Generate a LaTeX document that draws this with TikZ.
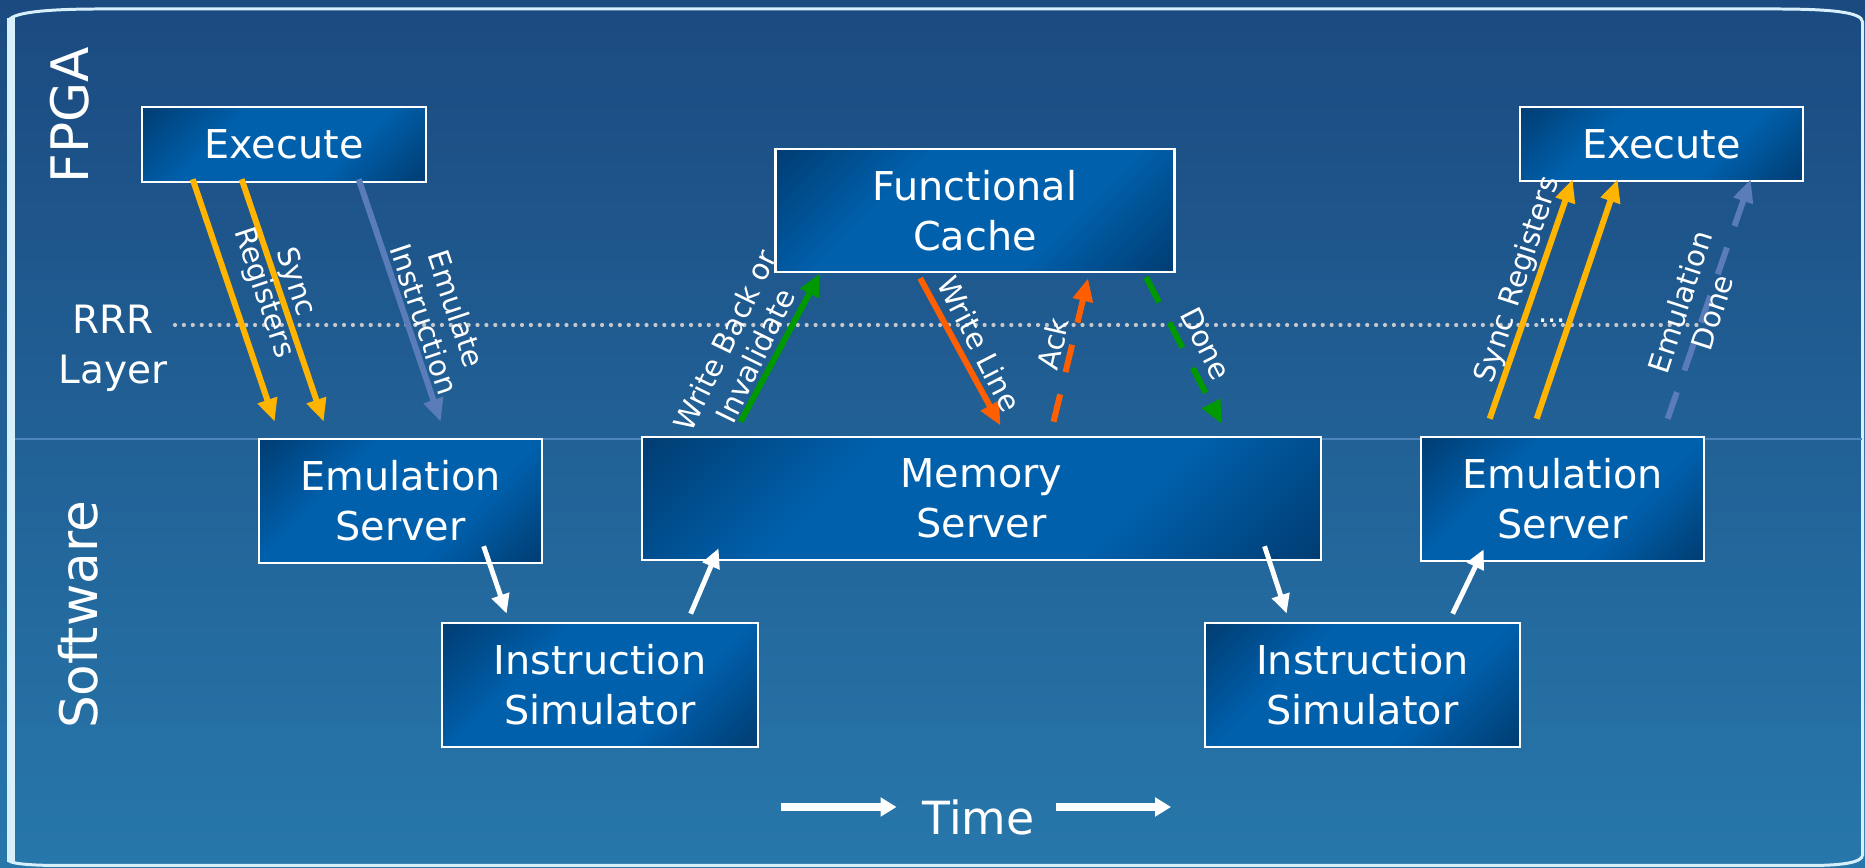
\documentclass[tikz,border=0pt]{standalone}
\usepackage{fontspec}
\setmainfont{DejaVu Sans}
\usepackage{xcolor}
\usepackage{tikz}
\usetikzlibrary{arrows.meta, calc}
\definecolor{bgtop}{HTML}{1B4A80}
\definecolor{bgbottom}{HTML}{2777AB}
\definecolor{boxdark}{HTML}{01244A}
\definecolor{boxlight}{HTML}{0060AC}
\definecolor{framecol}{HTML}{D8F0FC}
\definecolor{syncyellow}{HTML}{FFB400}
\definecolor{emulblue}{HTML}{5A7DB9}
\definecolor{cachegreen}{HTML}{009A00}
\definecolor{lineorange}{HTML}{FF5F00}
\definecolor{dotgray}{HTML}{C4C8CC}
\definecolor{splitblue}{HTML}{4C84BC}
\pgfdeclarehorizontalshading{boxshade}{100bp}{color(0bp)=(boxdark); color(36bp)=(boxlight); color(64bp)=(boxlight); color(100bp)=(boxdark)}
\tikzstyle{box} = [rectangle, draw=white, line width=0.7pt, shading=boxshade, shading angle=-45, text=white, align=center, inner sep=0pt, font=\fontsize{11.3}{14.2}\selectfont]
\tikzstyle{layer} = [text=white, align=center, inner sep=0pt, font=\fontsize{14.7}{17}\selectfont]
\tikzstyle{msg} = [text=white, align=center, inner sep=0pt, font=\fontsize{8.3}{9.6}\selectfont]
\tikzstyle{sync} = [syncyellow, line width=1.7pt, -{Triangle[length=6.5pt, width=5.5pt]}]
\tikzstyle{emulate} = [emulblue, line width=1.7pt, -{Triangle[length=6.5pt, width=5.5pt]}]
\tikzstyle{writeback} = [cachegreen, line width=1.7pt, -{Triangle[length=6.5pt, width=5.5pt]}]
\tikzstyle{writeline} = [lineorange, line width=1.7pt, -{Triangle[length=6.5pt, width=5.5pt]}]
\tikzstyle{later} = [dash pattern=on 8pt off 6.5pt]
\tikzstyle{flow} = [white, line width=1.4pt, -{Triangle[length=5.5pt, width=5pt]}]
\tikzstyle{timeline} = [white, line width=2pt, -{Triangle[length=4.5pt, width=5.2pt]}]

\begin{document}
\begin{tikzpicture}[x=0.01cm, y=-0.01cm]
	\useasboundingbox (0,0) rectangle (1865,868);
	\shade[top color=bgtop, bottom color=bgbottom] (0,0) rectangle (1865,868);
	\fill[framecol] (7,18) rectangle (15,862);
	\draw[framecol, line width=0.85pt] (8.5,860) -- (8.5,22) .. controls (8.5,12) and (50,9) .. (100,9) -- (1775,9) .. controls (1830,9) and (1862.5,12) .. (1862.5,22) -- (1862.5,855) .. controls (1862.5,862) and (1845,865.5) .. (1810,865.5) -- (60,865.5) .. controls (25,865.5) and (8.5,863) .. cycle;
	\draw[splitblue, line width=0.4pt] (15,439) -- (1862,439);
	\draw[dotgray, line width=1.2pt, line cap=round, dash pattern=on 0pt off 2.53pt] (175,325) -- (1702,325);

	\node (FPGA)[layer, rotate=90] at (70,115) {FPGA};
	\node (Software)[layer, rotate=90] at (78,615) {Software};
	\node (RRR Layer)[layer, font=\fontsize{11.1}{14.2}\selectfont] at (113,348) {RRR\\Layer};

	\node (Execute Left)[box, minimum width=2.84cm, minimum height=0.75cm] at (284,144.5) {Execute};
	\node (Functional Cache)[box, minimum width=3.99cm, minimum height=1.23cm] at (975,210.5) {Functional\\Cache};
	\node (Execute Right)[box, minimum width=2.83cm, minimum height=0.74cm] at (1661.5,144) {Execute};
	\node (Emulation Server Left)[box, minimum width=2.83cm, minimum height=1.24cm] at (400.5,501) {Emulation\\Server};
	\node (Memory Server)[box, minimum width=6.79cm, minimum height=1.23cm] at (981.5,498.5) {Memory\\Server};
	\node (Emulation Server Right)[box, minimum width=2.83cm, minimum height=1.24cm] at (1562.5,499) {Emulation\\Server};
	\node (Instruction Simulator Left)[box, minimum width=3.16cm, minimum height=1.24cm] at (600,685) {Instruction\\Simulator};
	\node (Instruction Simulator Right)[box, minimum width=3.15cm, minimum height=1.24cm] at (1362.5,685) {Instruction\\Simulator};

	\draw [sync] ($(Execute Left.south west)+(52,-4)$) -- ($(Emulation Server Left.north west)+(17,-16)$);
	\draw [sync] ($(Execute Left.south west)+(101,-4)$) -- ($(Emulation Server Left.north west)+(66,-16)$);
	\draw [emulate] ($(Execute Left.south west)+(218,-4)$) -- ($(Emulation Server Left.north west)+(183,-16)$);
	\draw [writeback] ($(Memory Server.north west)+(100,-14)$) -- ($(Functional Cache.south west)+(46,0)$);
	\draw [writeline] ($(Functional Cache.south west)+(146,5)$) -- ($(Memory Server.north west)+(360,-10)$);
	\draw [writeline, later] ($(Memory Server.north west)+(413,-14)$) -- ($(Functional Cache.south west)+(314,5)$);
	\draw [writeback, later] ($(Functional Cache.south west)+(372,4)$) -- ($(Memory Server.north west)+(581,-12)$);
	\draw [sync] ($(Emulation Server Right.north west)+(70,-17)$) -- ($(Execute Right.south west)+(54,-3)$);
	\draw [sync] ($(Emulation Server Right.north west)+(117,-17)$) -- ($(Execute Right.south west)+(99,-3)$);
	\draw [emulate, later] ($(Emulation Server Right.north west)+(248,-17)$) -- ($(Execute Right.south west)+(232,-3)$);
	\draw [flow] ($(Emulation Server Left.south west)+(226,-18)$) -- ($(Instruction Simulator Left.north west)+(66,-8)$);
	\draw [flow] ($(Instruction Simulator Left.north west)+(250,-8)$) -- ($(Memory Server.south west)+(78,-13)$);
	\draw [flow] ($(Memory Server.south west)+(624,-15)$) -- ($(Instruction Simulator Right.north west)+(83,-8)$);
	\draw [flow] ($(Instruction Simulator Right.north west)+(249,-8)$) -- ($(Emulation Server Right.south west)+(64,-13)$);

	\node (Sync Left)[msg, rotate=-71.5] at (279,287.5) {Sync\\Registers};
	\node (Emulate)[msg, rotate=-71.5] at (440.5,314) {Emulate\\Instruction};
	\node (Write Back)[msg, rotate=64] at (740,348) {Write Back or\\Invalidate};
	\node (Write Line)[msg, rotate=-63] at (979.5,344) {Write Line};
	\node (Ack)[msg, rotate=77] at (1053,344) {Ack};
	\node (Done)[msg, rotate=-63] at (1206,343.5) {Done};
	\node (Sync Right)[msg, rotate=72] at (1518.5,280) {Sync Registers};
	\node (Emulation Done)[msg, rotate=72] at (1696,307) {Emulation\\Done};
	\node (More)[msg] at (1552,321) {...};

	\node (Time)[text=white, font=\fontsize{13}{15}\selectfont, anchor=base] at (978.5,835) {Time};
	\draw [timeline] ($(Time.base)+(-198,-28)$) -- ($(Time.base)+(-82,-28)$);
	\draw [timeline] ($(Time.base)+(77.5,-28)$) -- ($(Time.base)+(192.5,-28)$);
\end{tikzpicture}
\end{document}
